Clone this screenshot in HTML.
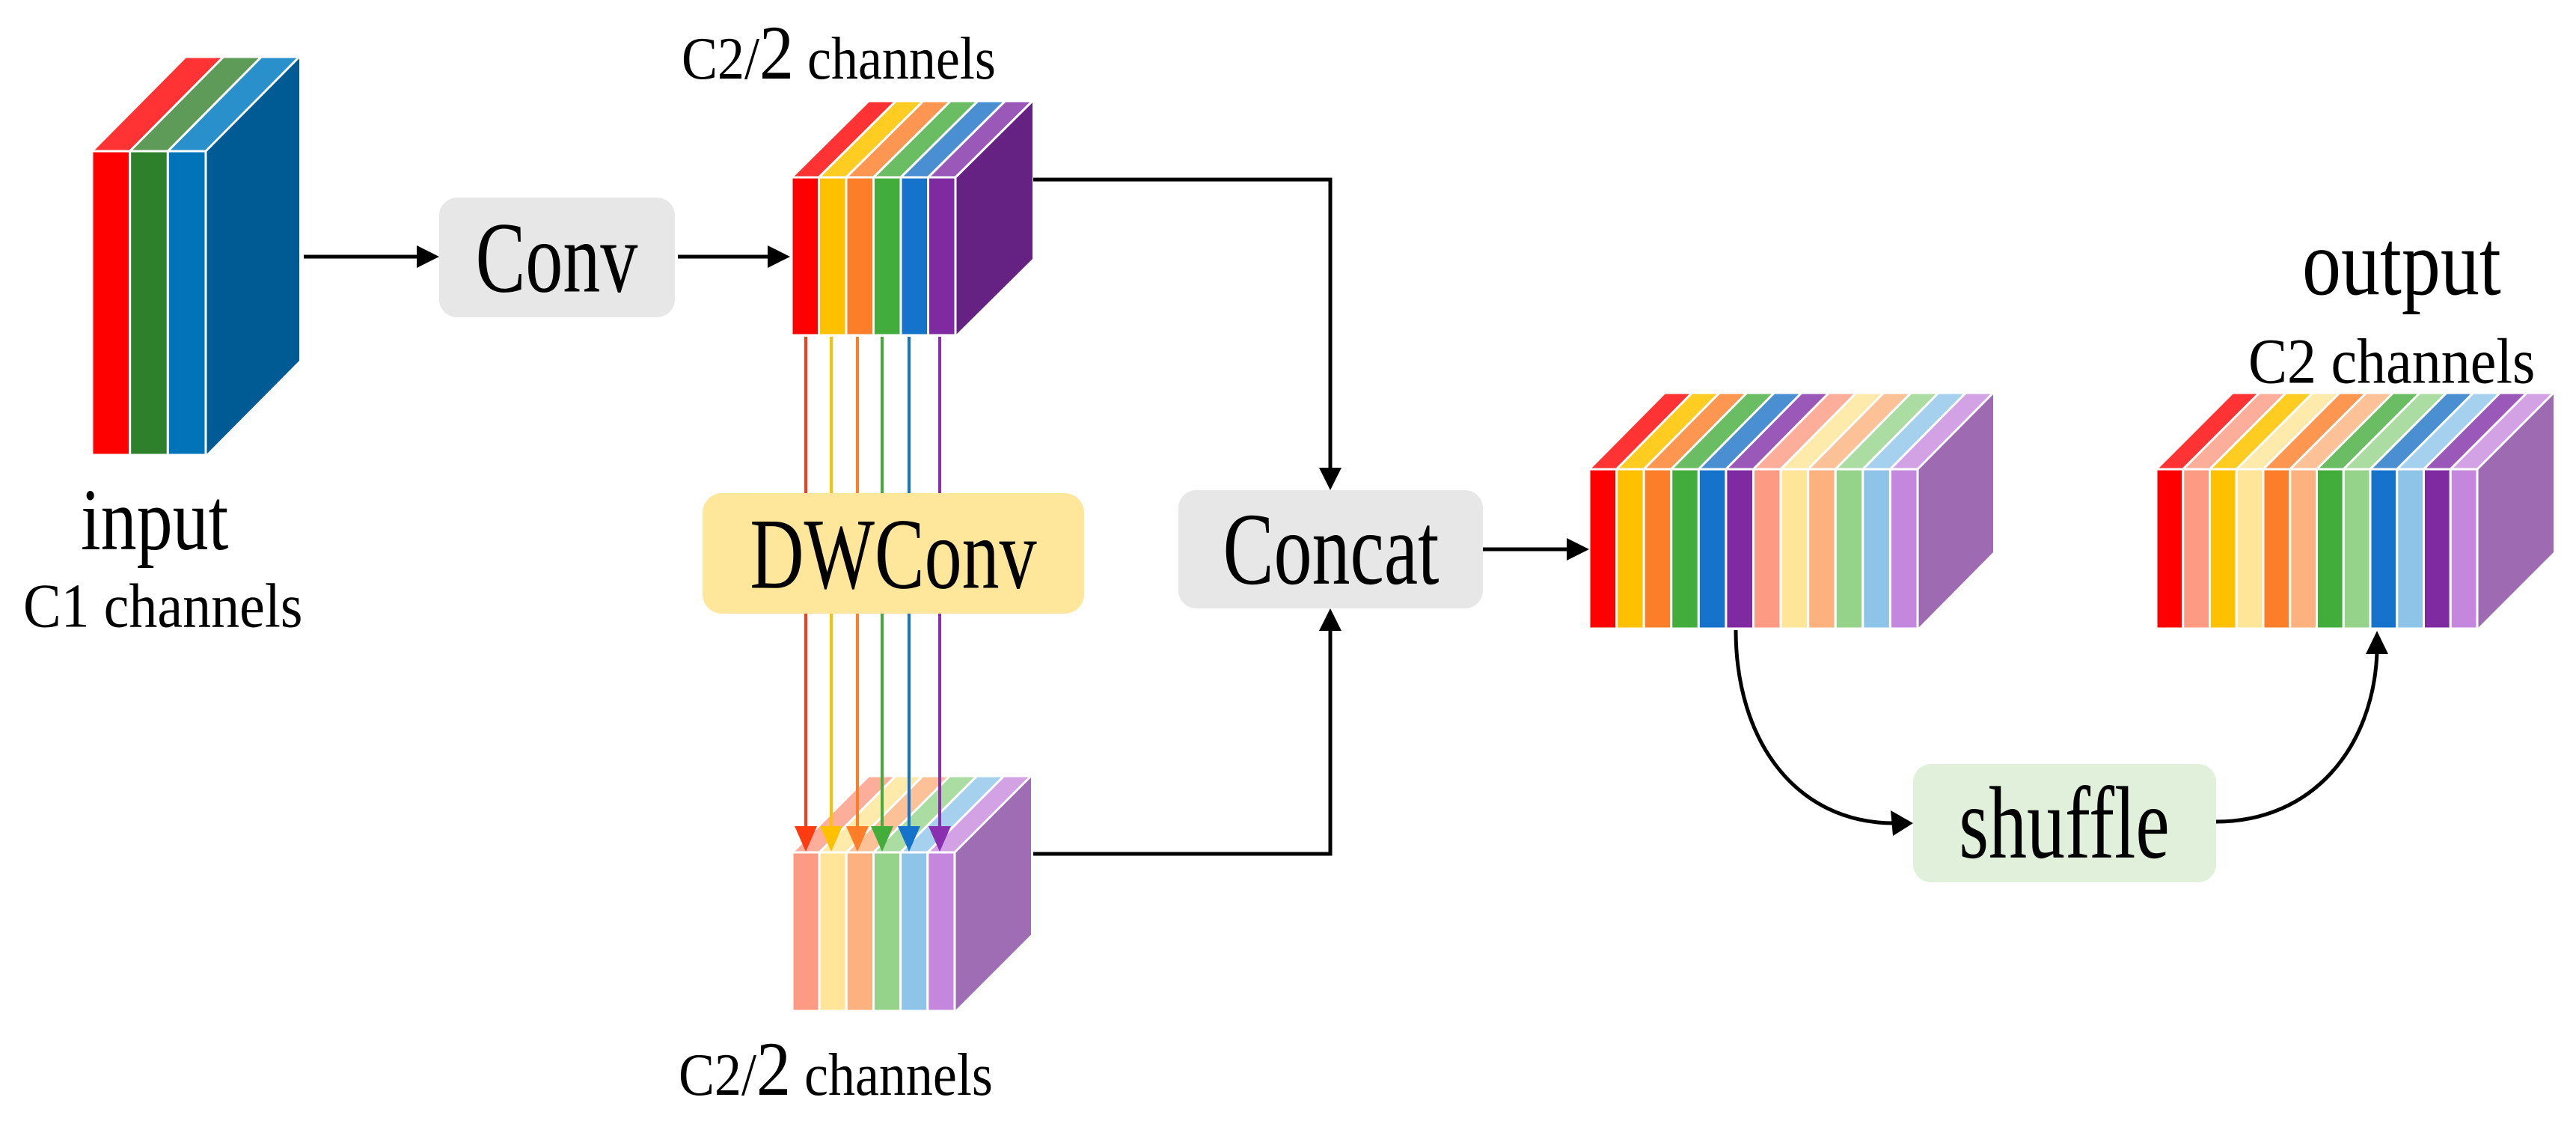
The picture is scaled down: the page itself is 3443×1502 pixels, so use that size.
<!DOCTYPE html>
<html><head><meta charset="utf-8"><style>
html,body{margin:0;padding:0;background:#fff;}
svg{display:block;}
text{font-family:"Liberation Serif",serif;fill:#000;}
</style></head><body>
<svg id="s" width="3443" height="1502" viewBox="0 0 3443 1502" xmlns="http://www.w3.org/2000/svg">
<g id="blocks"></g>
<!-- boxes -->
<rect x="587" y="264" width="315" height="160" rx="24" fill="#e7e7e7"/>
<text x="744" y="378" font-size="100" text-anchor="middle" transform="translate(0,345) scale(1,1.35) translate(0,-345)">Conv</text>
<rect x="1575" y="655" width="407" height="158" rx="24" fill="#e7e7e7"/>
<text x="1779" y="768" font-size="102" text-anchor="middle" transform="translate(0,734) scale(1,1.35) translate(0,-734)">Concat</text>
<rect x="2557" y="1021" width="405" height="158" rx="24" fill="#e0f0da"/>
<text x="2759" y="1134" font-size="102" text-anchor="middle" transform="translate(0,1100) scale(1,1.35) translate(0,-1100)">shuffle</text>
<!-- connectors -->
<g stroke="#000" stroke-width="5" fill="none">
<line x1="406" y1="343" x2="560" y2="343"/>
<line x1="906" y1="343" x2="1030" y2="343"/>
<polyline points="1381,240 1778,240 1778,628"/>
<polyline points="1381,1141 1778,1141 1778,840"/>
<line x1="1982" y1="734" x2="2098" y2="734"/>
<path d="M2320,842 C2320,990 2400,1100 2532,1100"/>
<path d="M2962,1098 C3090,1098 3172,1000 3177,872"/>
</g>
<g fill="#000">
<polygon points="587,343 557,328 557,358"/>
<polygon points="1056,343 1026,328 1026,358"/>
<polygon points="1778,655 1763,625 1793,625"/>
<polygon points="1778,813 1763,843 1793,843"/>
<polygon points="2124,734 2094,719 2094,749"/>
<polygon points="2557,1100 2527,1083 2530,1117"/>
<polygon points="3177,843 3162,874 3192,874"/>
</g>
<g id="dw"></g>
<rect x="939" y="659" width="510" height="161" rx="26" fill="#fee79b"/>
<text x="1194" y="774" font-size="100" text-anchor="middle" transform="translate(0,741) scale(1,1.35) translate(0,-741)">DWConv</text>
<!-- labels -->
<text x="911" y="102" font-size="72" transform="translate(0,78) scale(1,1.12) translate(0,-78)">C2/<tspan font-size="92">2</tspan> channels</text>
<text x="907" y="1460" font-size="72" transform="translate(0,1436) scale(1,1.12) translate(0,-1436)">C2/<tspan font-size="92">2</tspan> channels</text>
<text x="108" y="728" font-size="96" transform="translate(0,700) scale(1,1.22) translate(0,-700)">input</text>
<text x="31" y="835" font-size="76" transform="translate(0,810) scale(1,1.1) translate(0,-810)">C1 channels</text>
<text x="3077" y="388" font-size="104" transform="translate(0,360) scale(1,1.2) translate(0,-360)">output</text>
<text x="3005" y="509" font-size="78" transform="translate(0,484) scale(1,1.1) translate(0,-484)">C2 channels</text>
</svg>
<script>
var NS="http://www.w3.org/2000/svg";
var g=document.getElementById('blocks');
function el(t,a,p){var e=document.createElementNS(NS,t);for(var k in a)e.setAttribute(k,a[k]);(p||g).appendChild(e);return e;}
var C={r:"#ff0000",y:"#ffc000",o:"#fd7e28",g:"#43ad3c",b:"#1673cb",p:"#7f2aa0",
lr:"#fc9a83",ly:"#fee597",lo:"#fdb17e",lg:"#96d38a",lb:"#8ec4e8",lp:"#c587dd"};
var T={r:"#ff3333",y:"#ffcc22",o:"#fd9650",g:"#6bbd63",b:"#4b8fd3",p:"#9a58b8",
lr:"#fdae9b",ly:"#feeaaa",lo:"#fdc198",lg:"#abdca1",lb:"#a6d1ee",lp:"#d3a2e4"};
function block(x0,y0,w,h,dx,dy,cols,tops,side){
 var n=cols.length,sw=w/n;
 el('polygon',{points:[x0+w,y0,x0+w+dx,y0-dy,x0+w+dx,y0+h-dy,x0+w,y0+h].join(' '),fill:side});
 for(var i=0;i<n;i++){
  var x=x0+i*sw;
  el('polygon',{points:[x,y0,x+sw,y0,x+sw+dx,y0-dy,x+dx,y0-dy].join(' '),fill:tops[i],stroke:'#fff','stroke-width':3,'stroke-linejoin':'round'});
  el('rect',{x:x,y:y0,width:sw,height:h,fill:cols[i],stroke:'#fff','stroke-width':3});
 }
}
function m(a,o){return a.map(function(k){return o[k];});}
block(123,202,152,406,125,126,["#ff0000","#2e802b","#0073b9"],["#ff3333","#5e9a58","#2a90cc"],"#005a94");
var s6=["r","y","o","g","b","p"],l6=["lr","ly","lo","lg","lb","lp"];
block(1058,237,219,211,103,102,m(s6,C),m(s6,T),"#662283");
block(2124,627,439,213,101,102,m(s6.concat(l6),C),m(s6.concat(l6),T),"#9e6bb3");
var o12=["r","lr","y","ly","o","lo","g","lg","b","lb","p","lp"];
block(2882,627,429,213,102,102,m(o12,C),m(o12,T),"#9e6bb3");
var d=document.getElementById('dw');
block(1059,1139,217,212,102,102,m(l6,C),m(l6,T),"#9f6db3");
var lx=[1077,1111,1146,1179,1215,1256],lc=["#ff3b12","#ffc000","#fd7e28","#43ad3c","#1673cb","#8a2fb0"];
for(var i=0;i<6;i++){
 el('line',{x1:lx[i],y1:450,x2:lx[i],y2:1110,stroke:lc[i],'stroke-width':4},d);
 el('polygon',{points:[lx[i]-15,1104,lx[i]+15,1104,lx[i],1138].join(' '),fill:lc[i]},d);
}
</script>
</body></html>
